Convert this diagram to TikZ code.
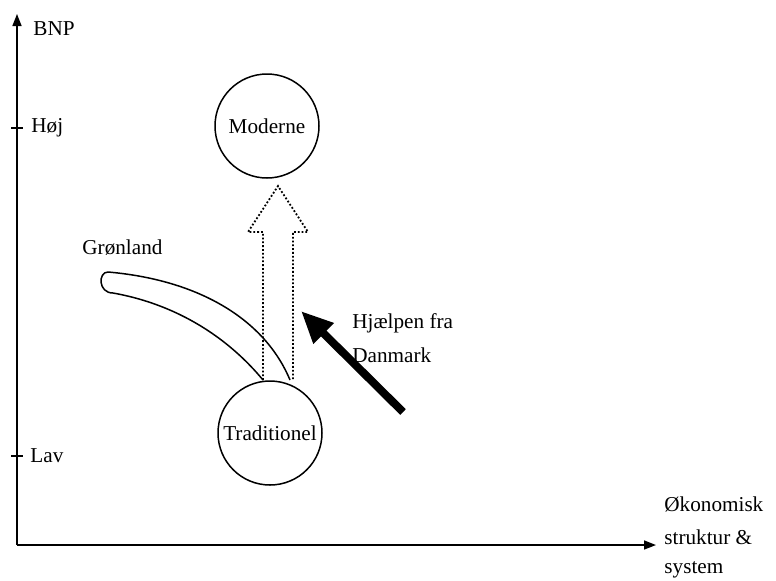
\documentclass[tikz,border=0pt]{standalone}
\usepackage{fontspec}
\setmainfont{Liberation Serif}
\usetikzlibrary{arrows.meta}
\begin{document}
\begin{tikzpicture}[x=0.5pt,y=-0.5pt,
  lbl/.style={font=\fontsize{10.6}{13}\selectfont, inner sep=0pt, anchor=west},
  axis/.style={line width=0.75pt, -{Triangle[length=6pt,width=4.5pt]}},
  state/.style={draw, circle, line width=0.75pt, minimum size=52pt, inner sep=0pt, font=\fontsize{10.6}{13}\selectfont},
  tick/.style={line width=1pt}]
\useasboundingbox (0,0) rectangle (776,580);
% axes
\coordinate (O) at (17,545);
\coordinate (ytop) at (17,14);
\coordinate (xend) at (656,545);
\draw[axis] (O) -- (ytop);
\draw[axis] (O) -- (xend);
\node[lbl] (bnp) at (33,29) {BNP};
\coordinate (th) at (17,128);
\coordinate (tl) at (17,456);
\draw[tick] ([xshift=-3]th) -- ([xshift=3]th);
\draw[tick] ([xshift=-3]tl) -- ([xshift=3]tl);
\node[lbl] (hoj) at (31,128) {Høj};
\node[lbl] (lav) at (30,456) {Lav};
\node[lbl] (okon) at (664,504) {Økonomisk};
\node[lbl] (strukt) at (664,537) {struktur \&};
\node[lbl] (syst) at (664,570) {system};
% circles
\node[state] (mod) at (267,126) {Moderne};
\node[state] (trad) at (270,433) {Traditionel};
% Grønland band
\node[lbl] (gron) at (82,248) {Grønland};
\draw[line width=0.75pt] (290,380) .. controls (265,320) and (200,280) .. (108,272)
  .. controls (98,272) and (98,293) .. (113,293)
  .. controls (180,305) and (230,340) .. (263,380);
% dotted arrow
\draw[line width=0.9pt, densely dotted] (263,380) -- (263,232) -- (248,232) -- (278,186)
  -- (308,232) -- (293,232) -- (293,380);
% black arrow
\coordinate (htail) at (403,412);
\coordinate (htip) at (301,311);
\draw[line width=4pt, -{Triangle[length=16pt,width=13.5pt]}] (htail) -- (htip);
\node[lbl] (hj1) at (352,323) {Hjælpen fra};
\node[lbl] (hj2) at (352,355) {Danmark};
\end{tikzpicture}
\end{document}
